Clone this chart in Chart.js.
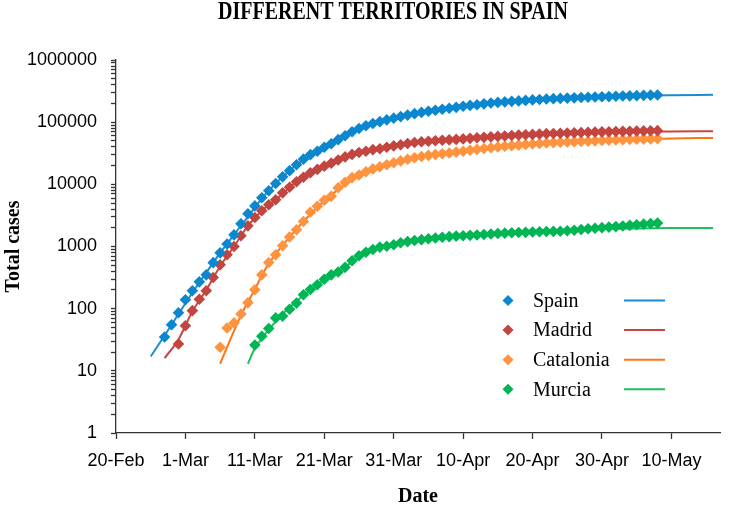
<!DOCTYPE html>
<html>
<head>
<meta charset="utf-8">
<script src="https://cdn.jsdelivr.net/npm/chart.js@4"></script>
<style>
  body { margin: 0; background: #fff; }
</style>
</head>
<body>
<canvas id="chart" width="733" height="505"></canvas>
<script>
// Day 0 = 20-Feb-2020 (x axis is days since then)
const tickDays = [0, 10, 20, 30, 40, 50, 60, 70, 80];
const tickLabels = ['20-Feb', '1-Mar', '11-Mar', '21-Mar', '31-Mar', '10-Apr', '20-Apr', '30-Apr', '10-May'];
const yMajor = [1, 10, 100, 1000, 10000, 100000, 1000000];

const seriesNames = ['Spain', 'Madrid', 'Catalonia', 'Murcia'];
const markerColors = ['#0A87CF', '#C2453F', '#FF933F', '#00B553'];
const lineColors = ['#1A8BD5', '#C9473F', '#FF7414', '#1EBD5E'];

// observed cases, one value per day starting at the given day
const spainStart = 7;
const spainCases = [35, 55, 86, 139, 194, 270, 350, 550, 790, 1100,
  1540, 2320, 3370, 4500, 6100, 7900, 10300, 13200, 16600, 20700,
  25400, 30000, 34100, 39600, 45000, 52300, 60600, 70300, 79000, 87500,
  95000, 102000, 109000, 116000, 123000, 130000, 137000, 143500, 149500, 155500,
  161500, 167000, 173000, 180000, 186000, 191000, 197000, 203000, 208000, 212000,
  216000, 220000, 224000, 228000, 232000, 236000, 239000, 241000, 244000, 246000,
  249000, 251000, 254000, 256000, 258000, 261000, 263000, 265000, 267000, 270000,
  272000, 274000];

const madridStart = 9;
const madridCases = [27, 53, 93, 142, 194, 317, 507, 735, 1000, 1490,
  2150, 2930, 3760, 4700, 5650, 7300, 9000, 11000, 13000, 15400,
  17400, 19600, 21900, 24600, 27600, 30300, 32600, 34100, 36100, 37400,
  39600, 41500, 43400, 45400, 47000, 48300, 49400, 50300, 51100, 51900,
  52800, 53800, 54900, 56000, 57000, 58000, 59000, 60000, 61000, 61900,
  62800, 63600, 64500, 65300, 65900, 66500, 67100, 67700, 68300, 68800,
  69300, 69800, 70300, 70800, 71200, 71600, 72000, 72400, 72700, 73000];

const cataloniaStart = 15;
const cataloniaCases = [24, 49, 59, 82, 124, 201, 350, 553, 735, 1030,
  1420, 1860, 2530, 3550, 4440, 5550, 6430, 8810, 10800, 12800,
  14100, 15900, 17700, 19200, 20700, 22300, 23800, 25300, 26800, 28100,
  29200, 30200, 31100, 31900, 33000, 34100, 35300, 36500, 37700, 38800,
  39900, 40900, 41900, 42800, 43700, 44600, 45500, 46300, 46900, 47500,
  48000, 48600, 49100, 49600, 50100, 50600, 51100, 51600, 52100, 52600,
  53000, 53400, 53800, 54200];

const murciaStart = 20;
const murciaCases = [26, 36, 48, 71, 76, 98, 123, 167, 203, 242,
  297, 350, 388, 462, 589, 709, 807, 895, 978, 1007,
  1065, 1150, 1200, 1250, 1290, 1330, 1370, 1410, 1440, 1470,
  1490, 1510, 1530, 1560, 1590, 1620, 1640, 1660, 1675, 1690,
  1710, 1730, 1740, 1750, 1760, 1790, 1830, 1880, 1930, 1970,
  2010, 2050, 2090, 2140, 2190, 2240, 2290, 2340, 2380];

// fitted curves
const spainFitDays = [5, 7, 9, 11, 13, 15, 17, 19, 21, 23, 26, 30, 35, 40, 45, 50, 55, 60, 65, 70, 75, 80, 86];
const spainFit = [17, 37, 82, 180, 380, 790, 1550, 3000, 5900, 10300, 20500, 39600, 79000, 116000, 149500, 180000, 208000, 228000, 243000, 255000, 265000, 271000, 276000];

const madridFitDays = [7, 9, 11, 13, 15, 17, 19, 21, 23, 26, 30, 35, 40, 45, 50, 55, 60, 65, 70, 75, 80, 86];
const madridFit = [16, 32, 90, 200, 480, 1000, 2150, 3760, 5650, 11000, 19600, 32000, 41500, 49000, 54500, 59000, 63000, 66000, 68300, 69900, 70800, 71300];

const cataloniaFitDays = [15, 16, 17, 18, 19, 20, 21, 22, 24, 26, 28, 30, 33, 36, 40, 45, 50, 55, 60, 65, 70, 75, 80, 86];
const cataloniaFit = [13, 24, 44, 78, 128, 205, 340, 530, 1050, 1900, 3300, 5400, 10000, 15500, 22000, 29000, 34300, 39600, 44200, 47800, 50700, 53000, 54700, 55800];

const murciaFitDays = [19, 20, 21, 22, 23, 24, 25, 26, 28, 30, 32, 34, 36, 38, 40, 45, 50, 55, 60, 65, 70, 75, 80, 86];
const murciaFit = [13, 23, 33, 46, 62, 82, 105, 132, 200, 290, 400, 560, 760, 940, 1080, 1330, 1500, 1640, 1750, 1840, 1910, 1955, 1980, 1990];

const observed = [[spainStart, spainCases], [madridStart, madridCases], [cataloniaStart, cataloniaCases], [murciaStart, murciaCases]];
const fitted = [[spainFitDays, spainFit], [madridFitDays, madridFit], [cataloniaFitDays, cataloniaFit], [murciaFitDays, murciaFit]];

const datasets = [];
observed.forEach(([start, vals], i) => {
    datasets.push({
        label: seriesNames[i],
        data: vals.map((v, k) => ({ x: start + k, y: v })),
        showLine: false,
        pointStyle: 'rectRot',
        pointRadius: 5.8,
        pointBackgroundColor: markerColors[i],
        pointBorderColor: markerColors[i],
        pointBorderWidth: 0,
        order: 1
    });
});
fitted.forEach(([days, vals], i) => {
    datasets.push({
        label: seriesNames[i] + ' fit',
        data: vals.map((v, k) => ({ x: days[k], y: v })),
        borderColor: lineColors[i],
        borderWidth: 2,
        pointRadius: 0,
        cubicInterpolationMode: 'monotone',
        fill: false,
        order: 2
    });
});

// title + legend drawn on top
const decorations = {
    id: 'decorations',
    afterDraw(chart) {
        const ctx = chart.ctx;
        ctx.save();
        ctx.fillStyle = '#000';
        ctx.textBaseline = 'middle';
        ctx.textAlign = 'center';
        ctx.font = 'bold 20px "Liberation Serif"';
        // title in the reference is a tall, narrow face: stretch vertically
        ctx.save();
        ctx.translate(393, 12);
        ctx.scale(1, 1.3);
        ctx.fillText('DIFFERENT TERRITORIES IN SPAIN', 0, 0);
        ctx.restore();

        ctx.textAlign = 'left';
        ctx.font = '20px "Liberation Serif"';
        seriesNames.forEach((name, i) => {
            const y = 300.5 + i * 29.6;
            ctx.fillStyle = markerColors[i];
            ctx.beginPath();
            ctx.moveTo(508, y - 5.5);
            ctx.lineTo(513.5, y);
            ctx.lineTo(508, y + 5.5);
            ctx.lineTo(502.5, y);
            ctx.closePath();
            ctx.fill();
            ctx.fillStyle = '#000';
            ctx.fillText(name, 533, y + 1);
            ctx.strokeStyle = lineColors[i];
            ctx.lineWidth = 2;
            ctx.beginPath();
            ctx.moveTo(624, y);
            ctx.lineTo(665, y);
            ctx.stroke();
        });
        ctx.restore();
    }
};

new Chart(document.getElementById('chart'), {
    type: 'line',
    data: { datasets },
    options: {
        responsive: false,
        animation: false,
        layout: { padding: { top: 60, right: 13, bottom: 0, left: 0 } },
        plugins: { legend: { display: false }, tooltip: { enabled: false } },
        scales: {
            x: {
                type: 'linear',
                min: 0,
                max: 87,
                afterFit: s => { s.height = 72; },
                afterBuildTicks: s => { s.ticks = tickDays.map(v => ({ value: v })); },
                grid: { drawOnChartArea: false, drawTicks: true, tickLength: 6, color: '#333', tickWidth: 1.3 },
                border: { display: true, color: '#333', width: 1.3 },
                ticks: {
                    autoSkip: false,
                    maxRotation: 0,
                    padding: 11,
                    color: '#000',
                    font: { family: '"Liberation Sans"', size: 18 },
                    callback: v => tickLabels[tickDays.indexOf(v)]
                },
                title: {
                    display: true,
                    text: 'Date',
                    color: '#000',
                    padding: { top: 0, bottom: -2 },
                    font: { family: '"Liberation Serif"', size: 20, weight: 'bold', lineHeight: 1 }
                }
            },
            y: {
                type: 'logarithmic',
                min: 1,
                max: 1000000,
                afterFit: s => { s.width = 116; },
                afterBuildTicks: s => {
                    const t = [];
                    yMajor.forEach(m => {
                        t.push({ value: m });
                        if (m < 1000000) for (let k = 2; k <= 9; k++) t.push({ value: m * k });
                    });
                    s.ticks = t;
                },
                grid: { drawOnChartArea: false, drawTicks: true, tickLength: 5, color: '#333', tickWidth: 1.3 },
                border: { display: true, color: '#333', width: 1.3 },
                ticks: {
                    autoSkip: false,
                    padding: 14,
                    color: '#000',
                    font: { family: '"Liberation Sans"', size: 18 },
                    callback: v => yMajor.includes(v) ? String(v) : ''
                },
                title: {
                    display: true,
                    text: 'Total cases',
                    color: '#000',
                    padding: { top: 4, bottom: 0 },
                    font: { family: '"Liberation Serif"', size: 20, weight: 'bold', lineHeight: 1 }
                }
            }
        }
    },
    plugins: [decorations]
});
</script>
</body>
</html>
